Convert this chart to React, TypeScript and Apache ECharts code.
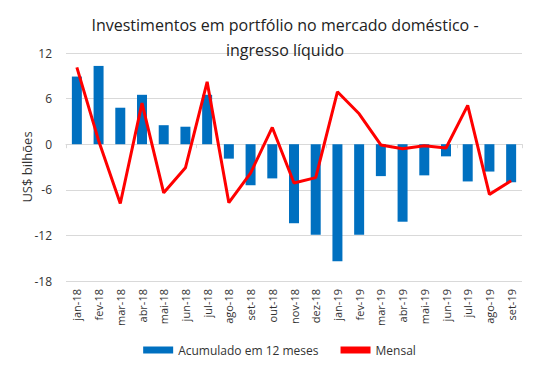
import React, { useEffect, useRef } from "react";
import * as echarts from "echarts";

const categories = [
  "jan-18", "fev-18", "mar-18", "abr-18", "mai-18", "jun-18", "jul-18", "ago-18", "set-18", "out-18",
  "nov-18", "dez-18", "jan-19", "fev-19", "mar-19", "abr-19", "mai-19", "jun-19", "jul-19", "ago-19", "set-19",
];
const acumulado = [
  8.9, 10.3, 4.8, 6.5, 2.5, 2.3, 6.5, -1.9, -5.4, -4.5,
  -10.4, -11.9, -15.4, -11.9, -4.2, -10.2, -4.1, -1.6, -4.9, -3.6, -5.0,
];
const mensal = [
  10.1, 0.5, -7.8, 5.4, -6.4, -3.1, 8.2, -7.7, -3.8, 2.2,
  -5.1, -4.4, 6.9, 4.0, -0.1, -0.6, -0.2, -0.5, 5.1, -6.6, -4.8,
];
const yTicks = { min: -18, max: 12, interval: 6 };

export default function App() {
  const ref = useRef<HTMLDivElement>(null);
  useEffect(() => {
    if (!ref.current) return;
    const chart = echarts.init(ref.current, undefined, { renderer: "svg" });
    const font = "'Open Sans', 'Noto Sans', sans-serif";
    chart.setOption({
      animation: false,
      textStyle: { fontFamily: font },
      title: {
        text: "Investimentos em portfólio no mercado doméstico -\ningresso líquido",
        left: 280,
        top: 7,
        textAlign: "center",
        textStyle: { fontSize: 16, fontWeight: "normal", color: "#222", lineHeight: 25, fontFamily: font },
      },
      legend: {
        bottom: 10,
        left: "center",
        itemWidth: 30,
        itemHeight: 7,
        itemGap: 22,
        textStyle: { fontSize: 12, color: "#333", fontFamily: font },
        data: [
          { name: "Acumulado em 12 meses", icon: "rect" },
          { name: "Mensal", icon: "rect", itemStyle: { color: "#ff0000" } },
        ],
      },
      grid: { left: 66, right: 37, top: 53, bottom: 90, outerBoundsMode: "none", containLabel: false },
      xAxis: [
        {
          type: "category",
          data: categories,
          boundaryGap: true,
          axisLine: { onZero: false, show: false },
          axisTick: { show: false },
          axisLabel: {
            rotate: 90,
            interval: 0,
            fontSize: 11,
            color: "#333",
            margin: 8,
            fontFamily: font,
          },
        },
        {
          type: "category",
          data: categories,
          boundaryGap: true,
          position: "bottom",
          axisLine: { onZero: true, lineStyle: { color: "#d9d9d9" } },
          axisTick: { show: true, lineStyle: { color: "#d9d9d9" }, length: 4 },
          axisLabel: { show: false },
          splitLine: { show: false },
        },
      ],
      yAxis: {
        type: "value",
        min: yTicks.min,
        max: yTicks.max,
        interval: yTicks.interval,
        name: "US$ bilhões",
        nameLocation: "middle",
        nameGap: 33,
        nameMoveOverlap: false,
        nameRotate: 90,
        nameTextStyle: { fontSize: 13, color: "#333", fontFamily: font },
        axisLine: { show: false },
        axisTick: { show: false },
        axisLabel: { fontSize: 12, color: "#333", margin: 14, fontFamily: font },
        splitLine: { lineStyle: { color: "#d9d9d9" } },
      },
      series: [
        {
          name: "Acumulado em 12 meses",
          type: "bar",
          xAxisIndex: 0,
          data: acumulado,
          barWidth: "46%",
          itemStyle: { color: "#0070c0" },
        },
        {
          name: "Mensal",
          type: "line",
          xAxisIndex: 0,
          data: mensal,
          symbol: "none",
          lineStyle: { color: "#ff0000", width: 3 },
          itemStyle: { color: "#ff0000" },
        },
      ],
    });
    return () => chart.dispose();
  }, []);
  return <div ref={ref} style={{ width: 559, height: 371, margin: -8 }} />;
}
